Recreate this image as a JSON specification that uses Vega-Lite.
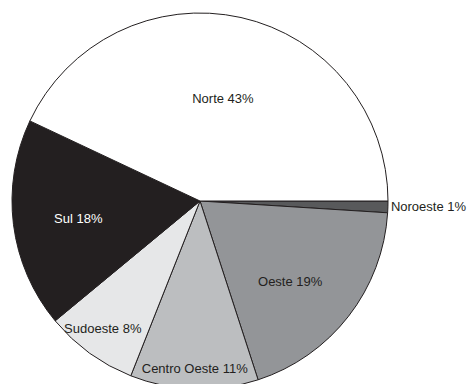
{
  "$schema": "https://vega.github.io/schema/vega-lite/v6.json",
  "autosize": {"type": "none"},
  "width": 400,
  "height": 366,
  "padding": {"left": 0, "top": 18, "right": 68, "bottom": 0},
  "background": "white",
  "config": {"view": {"stroke": null}, "text": {"font": "Liberation Sans", "fontSize": 13}},
  "data": {
    "values": [
      {"region": "Noroeste", "pct": 1, "ord": 1, "label": "Noroeste 1%"},
      {"region": "Oeste", "pct": 19, "ord": 2, "label": "Oeste 19%"},
      {"region": "Centro Oeste", "pct": 11, "ord": 3, "label": "Centro Oeste 11%"},
      {"region": "Sudoeste", "pct": 8, "ord": 4, "label": "Sudoeste 8%"},
      {"region": "Sul", "pct": 18, "ord": 5, "label": "Sul 18%"},
      {"region": "Norte", "pct": 43, "ord": 6, "label": "Norte 43%"}
    ]
  },
  "encoding": {
    "theta": {"field": "pct", "type": "quantitative", "stack": true, "scale": {"range": [1.5708, 7.854]}},
    "order": {"field": "ord", "type": "quantitative"}
  },
  "layer": [
    {
      "mark": {"type": "arc", "outerRadius": 188, "stroke": "#231f20", "strokeWidth": 1},
      "encoding": {
        "color": {
          "field": "region", "type": "nominal", "legend": null,
          "scale": {
            "domain": ["Noroeste", "Oeste", "Centro Oeste", "Sudoeste", "Sul", "Norte"],
            "range": ["#58595b", "#939598", "#bcbec0", "#e6e7e8", "#231f20", "#ffffff"]
          }
        }
      }
    },
    {
      "mark": {"type": "text", "radius": 105, "color": "#231f20"},
      "encoding": {"text": {"condition": {"test": "datum.region === 'Norte'", "field": "label"}, "value": ""}}
    },
    {
      "mark": {"type": "text", "radius": 123, "color": "#ffffff", "thetaOffset": -0.02},
      "encoding": {"text": {"condition": {"test": "datum.region === 'Sul'", "field": "label"}, "value": ""}}
    },
    {
      "mark": {"type": "text", "radius": 121, "color": "#231f20", "thetaOffset": 0.07},
      "encoding": {"text": {"condition": {"test": "datum.region === 'Oeste'", "field": "label"}, "value": ""}}
    },
    {
      "mark": {"type": "text", "radius": 168, "color": "#231f20"},
      "encoding": {"text": {"condition": {"test": "datum.region === 'Centro Oeste'", "field": "label"}, "value": ""}}
    },
    {
      "mark": {"type": "text", "radius": 161, "color": "#231f20", "thetaOffset": 0.02},
      "encoding": {"text": {"condition": {"test": "datum.region === 'Sudoeste'", "field": "label"}, "value": ""}}
    },
    {
      "mark": {"type": "text", "radius": 191, "align": "left", "color": "#231f20"},
      "encoding": {"text": {"condition": {"test": "datum.region === 'Noroeste'", "field": "label"}, "value": ""}}
    }
  ]
}
